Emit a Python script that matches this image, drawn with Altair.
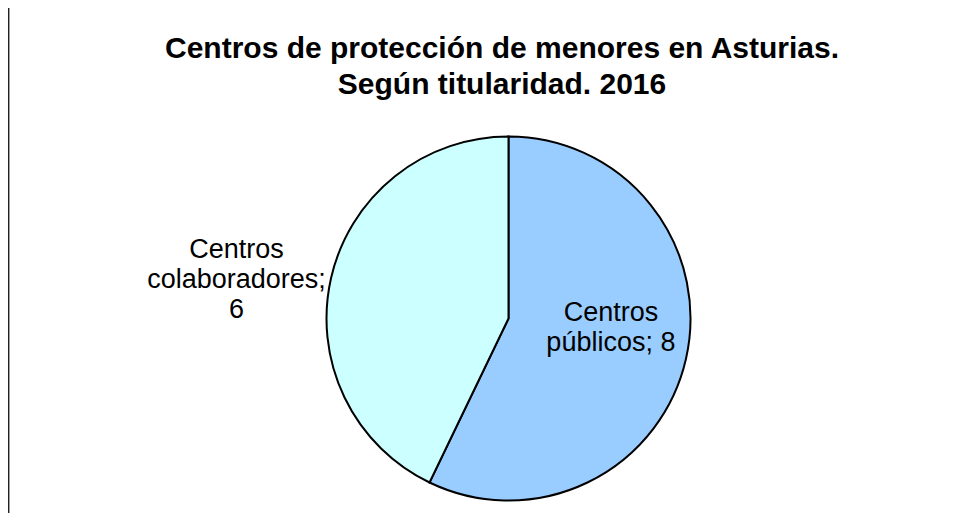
import altair as alt
import pandas as pd

# Datos
categorias = ["Centros públicos", "Centros colaboradores"]
valores = [8, 6]
etiquetas = ["Centros\npúblicos; 8", "Centros\ncolaboradores;\n6"]
colores = ["#99CCFF", "#CCFFFF"]
titulo = ["Centros de protección de menores en Asturias.", "Según titularidad. 2016"]

df = pd.DataFrame({
    "categoria": categorias,
    "valor": valores,
    "etiqueta": etiquetas,
    "orden": list(range(len(categorias))),
})

CX, CY, R = 500.5, 190.5, 182

theta = alt.Theta("valor:Q", stack=True)
order = alt.Order("orden:Q", sort="ascending")

base = alt.Chart(df)

pie = base.mark_arc(outerRadius=R, stroke="black", strokeWidth=2).encode(
    theta=theta,
    order=order,
    color=alt.Color("categoria:N", scale=alt.Scale(domain=categorias, range=colores), legend=None),
    x=alt.value(CX),
    y=alt.value(CY),
)

lab_pub = base.mark_text(
    radius=103, dx=2, dy=-28, fontSize=27, lineHeight=30, lineBreak="\n",
    font="Liberation Sans", color="black", align="center", baseline="middle",
).encode(
    theta=theta, order=order, text="etiqueta:N", x=alt.value(CX), y=alt.value(CY),
    opacity=alt.condition(alt.datum.orden == 0, alt.value(1), alt.value(0)),
)

lab_col = base.mark_text(
    radius=279, dx=0, dy=-6, fontSize=27, lineHeight=30, lineBreak="\n",
    font="Liberation Sans", color="black", align="center", baseline="middle",
).encode(
    theta=theta, order=order, text="etiqueta:N", x=alt.value(CX), y=alt.value(CY),
    opacity=alt.condition(alt.datum.orden == 1, alt.value(1), alt.value(0)),
)

borde = alt.Chart(df).mark_rule(color="#222222", strokeWidth=1.5).encode(
    x=alt.value(0.5), y=alt.value(-120), y2=alt.value(393)
)

chart = alt.layer(pie, lab_pub, lab_col, borde).properties(
    width=962,
    height=385,
    autosize=alt.AutoSizeParams(type="none"),
    padding={"top": 120, "left": 0, "right": 0, "bottom": 0},
    background="white",
    title=alt.TitleParams(
        titulo, anchor="middle", frame="group", fontSize=30, font="Liberation Sans",
        fontWeight="bold", color="black", lineHeight=36, offset=0, dx=13, dy=93,
    ),
).configure_view(stroke=None)

chart.save("out.html", embed_options={"renderer": "svg", "actions": False})
